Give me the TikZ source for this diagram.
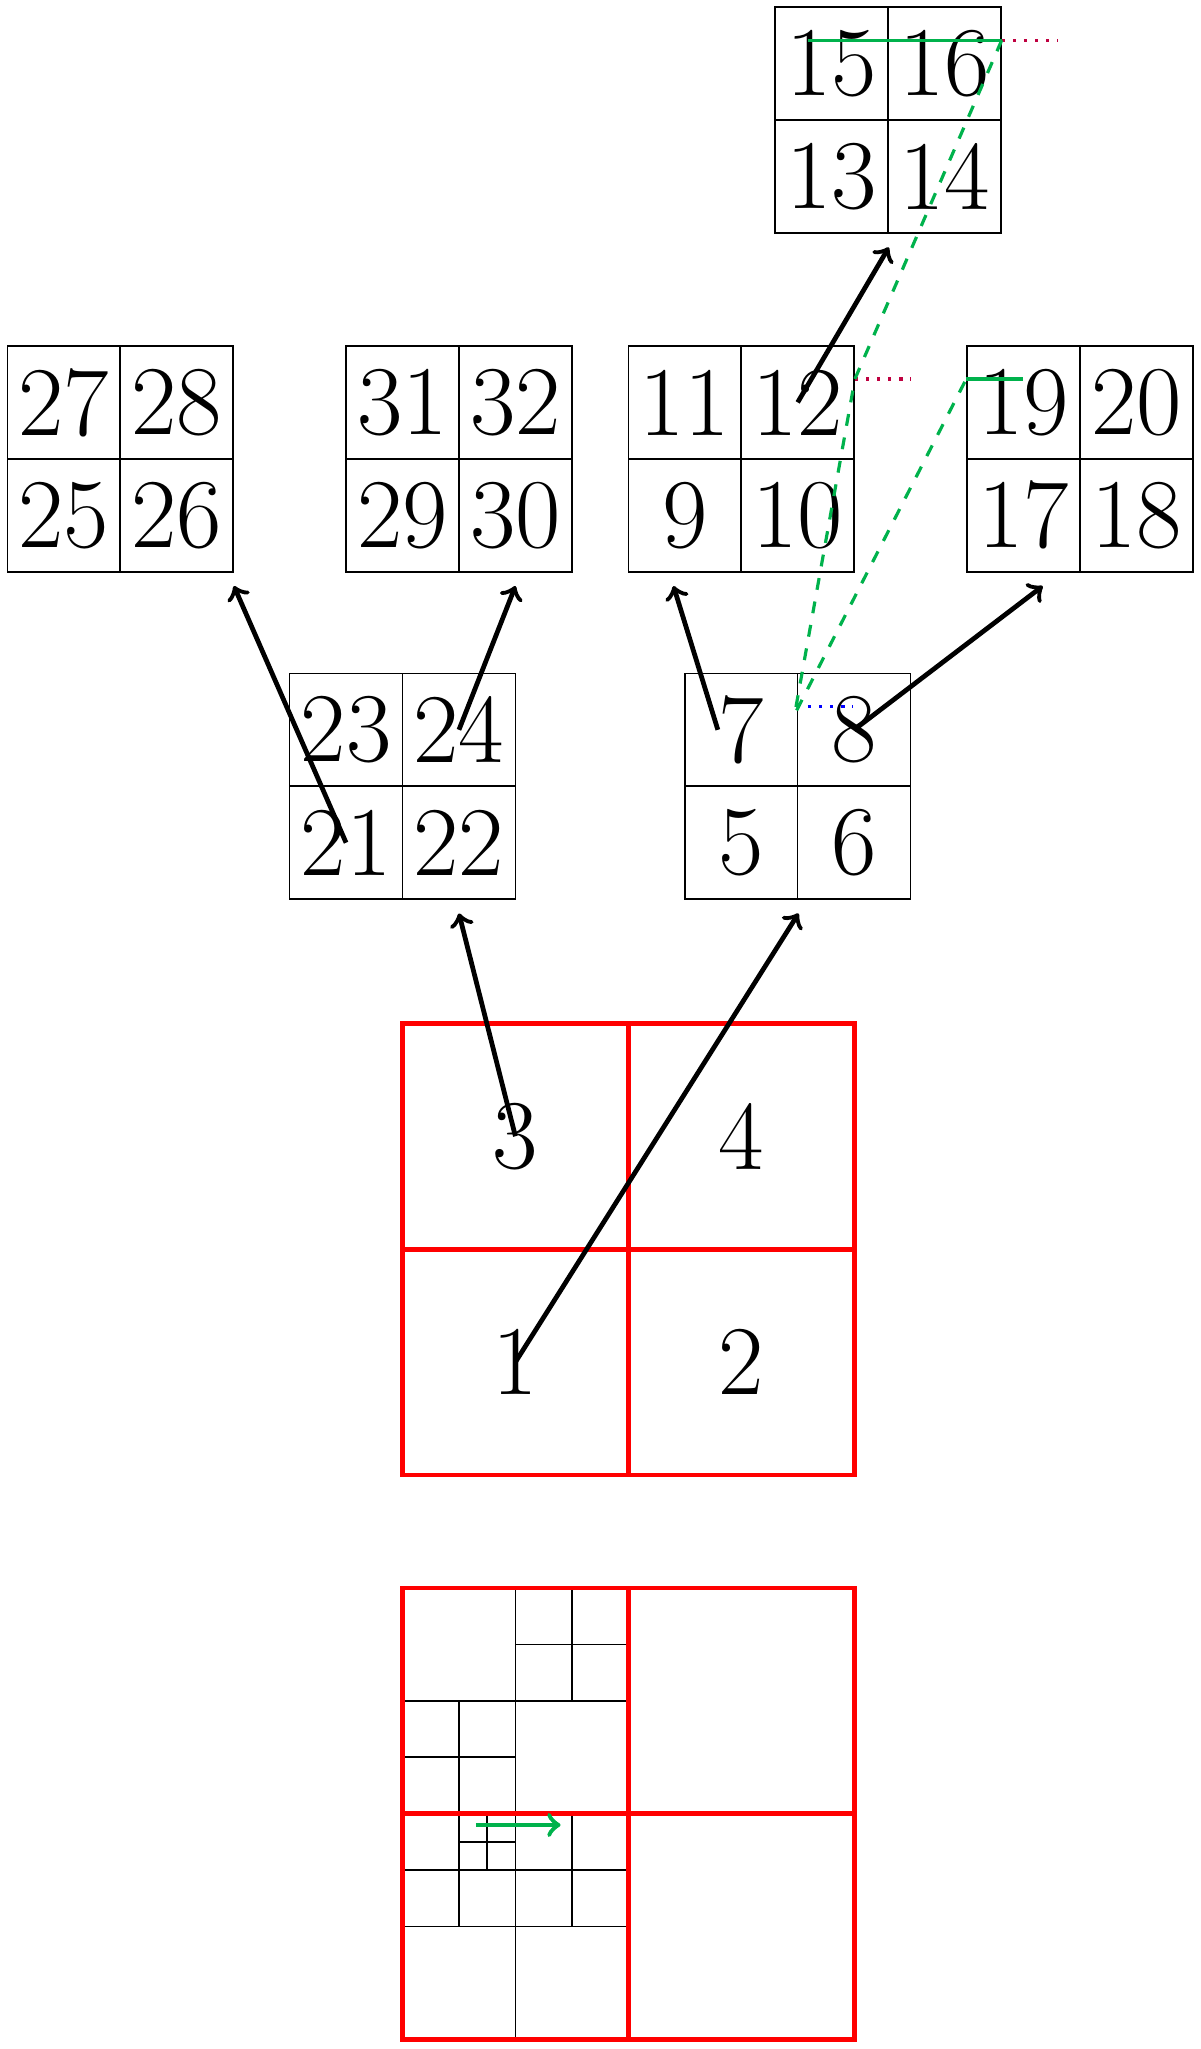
\documentclass[tikz,border=0pt]{standalone}
\usepackage{xcolor}
\usepackage{tikz}
\usetikzlibrary{arrows,calc}

\begin{document}
\begin{tikzpicture}[
    cell/.style={draw, minimum size=1cm, inner sep=0pt, font=\Huge},
    bigcell/.style={draw=red, very thick, minimum size=2cm, inner sep=0pt, font=\Huge},
    link/.style={->, very thick},
    trace/.style={thick, color=green!70!blue},
    probe/.style={thick, dotted}
  ]
          \useasboundingbox (-3.565,-5.084) rectangle (7.064,13.064);

          \foreach \dx\dy [count=\k from 1] in {0/0, 2/0, 0/2, 2/2}{%
            \node[bigcell] (c\k) at (\dx+1, \dy+1) {\k};
          }
          \foreach \x\y [count=\i from 0] in {2.5/5.1, 2/8, 3.3/11, 5/8, -1/5.1, -3.5/8, -0.5/8}{%
            \foreach \dx\dy [count=\k from 0] in {0/0, 1/0, 0/1, 1/1}{%
              \pgfmathtruncatemacro{\n}{5+4*\i+\k}
              \node[cell] (c\n) at (\x+\dx+0.5, \y+\dy+0.5) {\n};
            }
          }

          \coordinate (t5) at ($(c5.south east)+(0,-0.12)$);
          \coordinate (t21) at ($(c22.south)+(0,-0.12)$);
          \coordinate (t25) at ($(c26.south east)+(0,-0.12)$);
          \coordinate (t29) at ($(c30.south)+(0,-0.12)$);
          \coordinate (t9) at ($(c9.south)+(-0.1,-0.12)$);
          \coordinate (t17) at ($(c17.south)+(0.17,-0.12)$);
          \coordinate (t13) at ($(c13.south east)+(0,-0.12)$);
          \coordinate (s7) at ($(c7.west)+(0.3,0)$);

          \draw[link] (c1.center) -- (t5);
          \draw[link] (c3.center) -- (t21);
          \draw[link] (c21.center) -- (t25);
          \draw[link] (c24.center) -- (t29);
          \draw[link] (s7) -- (t9);
          \draw[link] (c8.center) -- (t17);
          \draw[link] (c12.center) -- (t13);

          \coordinate (p16) at ($(c16.north east)+(0,-0.3)$);
          \coordinate (p15) at ($(c15.north west)+(0.3,-0.3)$);
          \coordinate (p12) at ($(c12.north east)+(0,-0.3)$);
          \coordinate (p19) at ($(c19.north west)+(0,-0.3)$);
          \coordinate (e19) at ($(c19.north)+(0,-0.3)$);
          \coordinate (p8) at ($(c8.north west)+(0,-0.3)$);
          \coordinate (q8) at ($(p8)+(-0.02,-0.07)$);

          \draw[trace] (p15) -- (p16);
          \draw[trace] (p19) -- (e19);
          \draw[probe, purple] (p16) -- ++(0.5,0);
          \draw[probe, purple] (p12) -- ++(0.5,0);
          \draw[probe, blue] (p8) -- ++(0.5,0);
          \draw[trace, dashed] (p16) -- (p12) -- (q8) -- (p19);

          \draw (1,-1) -- (1,-5) (0,-2) -- (2,-2) (0,-4) -- (2,-4);
          \draw (1.5,-1) -- (1.5,-2) (1,-1.5) -- (2,-1.5);
          \draw (0.5,-2) -- (0.5,-4) (0,-2.5) -- (1,-2.5) (0,-3.5) -- (2,-3.5);
          \draw (1.5,-3) -- (1.5,-4) (0.75,-3) -- (0.75,-3.5) (0.5,-3.25) -- (1,-3.25);
          \draw[red, very thick] (0,-5) rectangle (4,-1) (2,-5) -- (2,-1) (0,-3) -- (4,-3);
          \draw[->, very thick, green!70!blue] (0.65,-3.1) -- (1.4,-3.1);
        \end{tikzpicture}
\end{document}
